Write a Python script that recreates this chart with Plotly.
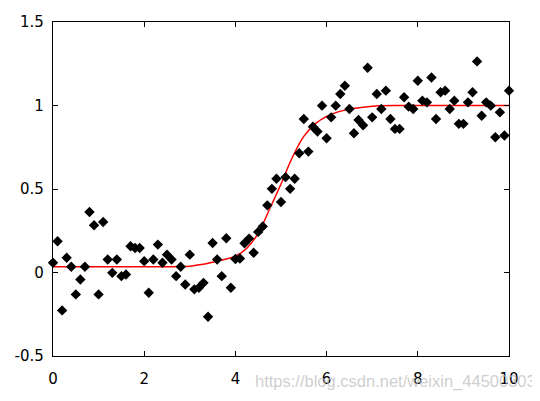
import plotly.graph_objects as go

# Data points (x = 0, 0.1, ..., 10)
x_data = [round(i * 0.1, 1) for i in range(101)]
y_data = [
    0.058, 0.187, -0.227, 0.088, 0.034, -0.131, -0.042, 0.034, 0.362, 0.283,
    -0.131, 0.302, 0.078, -0.002, 0.078, -0.022, -0.012, 0.157, 0.147, 0.147,
    0.068, -0.121, 0.078, 0.167, 0.058, 0.107, 0.078, -0.022, 0.034, -0.072,
    0.107, -0.101, -0.091, -0.062, -0.265, 0.177, 0.078, -0.022, 0.205, -0.091,
    0.081, 0.084, 0.175, 0.203, 0.118, 0.243, 0.276, 0.402, 0.501, 0.561,
    0.422, 0.571, 0.501, 0.561, 0.714, 0.919, 0.724, 0.873, 0.844, 0.999,
    0.804, 0.929, 0.999, 1.069, 1.118, 0.979, 0.834, 0.913, 0.882, 1.226,
    0.929, 1.069, 0.979, 1.089, 0.919, 0.860, 0.860, 1.049, 0.993, 0.979,
    1.148, 1.029, 1.019, 1.168, 0.919, 1.079, 1.089, 0.979, 1.029, 0.890,
    0.890, 1.019, 1.079, 1.264, 0.939, 1.019, 0.999, 0.810, 0.959, 0.820,
    1.089,
]

# Fitted curve
x_fit = [0, 1, 2, 2.8, 3.0, 3.25, 3.5, 3.75, 4.0, 4.25, 4.5, 4.75, 5.0,
         5.25, 5.5, 5.75, 6.0, 6.25, 6.5, 6.75, 7.0, 7.5, 8, 9, 10]
y_fit = [0.034, 0.034, 0.034, 0.036, 0.038, 0.048, 0.062, 0.078, 0.097,
         0.145, 0.235, 0.38, 0.53, 0.69, 0.815, 0.89, 0.935, 0.962, 0.978,
         0.988, 0.996, 1.0, 1.0, 1.0, 1.0]

x_ticks = [0, 2, 4, 6, 8, 10]
y_ticks = [-0.5, 0, 0.5, 1, 1.5]
y_tick_text = ["-0.5", "0", "0.5", "1", "1.5"]

fig = go.Figure()
fig.add_trace(go.Scatter(
    x=x_fit, y=y_fit, mode="lines", line_shape="spline",
    line=dict(color="red", width=1.5),
    showlegend=False,
))
fig.add_trace(go.Scatter(
    x=x_data, y=y_data, mode="markers", cliponaxis=False,
    marker=dict(symbol="diamond", size=8, color="black", line=dict(width=0)),
    showlegend=False,
))

axis_common = dict(
    showgrid=False, zeroline=False, showline=True, linecolor="black",
    linewidth=1.2, mirror="ticks", ticks="inside", ticklen=5,
    tickcolor="black", tickwidth=1,
    tickfont=dict(family="DejaVu Sans, Arial, sans-serif", size=15, color="black"),
)

fig.update_layout(
    width=540, height=401,
    margin=dict(l=45, r=39, t=14, b=53),
    paper_bgcolor="white", plot_bgcolor="white",
    xaxis=dict(range=[0, 10], tickvals=x_ticks, ticktext=[str(v) for v in x_ticks],
               ticklabelstandoff=9, automargin=False, **axis_common),
    yaxis=dict(range=[-0.5, 1.5], tickvals=y_ticks, ticktext=y_tick_text,
               ticklabelstandoff=5, automargin=False, **axis_common),
)

fig.add_annotation(
    text="https://blog.csdn.net/weixin_44500303",
    xref="paper", yref="paper", x=0.4386, y=-0.075, xanchor="left", yanchor="middle",
    showarrow=False,
    font=dict(family="Liberation Sans, Arial, sans-serif", size=16.5, color="rgba(190,190,190,0.75)"),
)

fig.write_html("out.html")
